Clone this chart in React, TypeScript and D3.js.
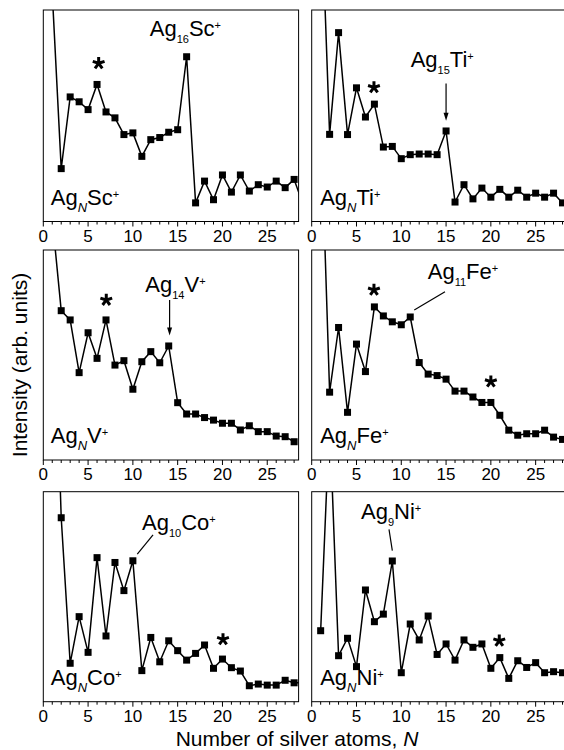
import React from 'react';
import * as d3 from 'd3';

// ---- data (relative intensity, arb. units; index 0 => N = 1) ----
const scValues = [108, 25, 58.9, 56.6, 52.9, 64.8, 51.8, 49.0, 41.1, 41.9, 30.8, 38.7, 39.7, 42.2, 43.4, 77.9, 8.8, 19.1, 10.3, 22.0, 13.9, 22.0, 14.4, 17.4, 16.3, 19.1, 16.0, 19.9, 8];
const tiValues = [159, 41.2, 89.3, 41.1, 63.2, 49.4, 55.5, 35.2, 35.5, 29.7, 31.6, 31.9, 31.9, 31.6, 42.8, 9.2, 17.4, 10.7, 15.8, 11.5, 15.2, 11.5, 14.8, 11.5, 13.4, 11.5, 13.4, 8.8];
const vValues = [115, 71.1, 66.7, 41.6, 60.6, 48.4, 66.7, 45.2, 47.3, 33.7, 46.8, 51.6, 46.3, 54.3, 27.3, 21.9, 21.9, 20.2, 19.0, 17.5, 17.5, 14.3, 16.3, 13.5, 13.5, 11.4, 11.1, 8.7];
const feValues = [165, 32.3, 63.1, 22.7, 55.2, 42.1, 72.9, 68.6, 65.8, 64.4, 68.1, 46.4, 40.9, 40.2, 38.5, 32.8, 32.8, 30.0, 27.4, 27.4, 21.3, 14.2, 11.8, 12.5, 12.5, 14.2, 10.9, 9.8];
const coValues = [220, 87.6, 18.3, 40.5, 23.5, 68.6, 31.3, 66.3, 52.9, 67.1, 14.8, 30.6, 19.0, 29.0, 24.3, 19.8, 23.0, 27.0, 15.9, 20.3, 16.2, 14.6, 7.6, 8.4, 7.9, 7.9, 10.2, 9.0, 9.0];
const niValues = [33.8, 135, 21.9, 30.2, 16.7, 53.2, 38.1, 41.7, 67.0, 13.8, 37.0, 29.4, 40.8, 22.5, 27.5, 19.8, 29.4, 25.9, 27.5, 15.9, 21.0, 11.1, 19.5, 16.3, 18.6, 13.8, 14.3, 13.8];

const metals = ['Sc', 'Ti', 'V', 'Fe', 'Co', 'Ni'];
const magicN = ['16', '15', '14', '11', '10', '9'];
const xTickLabels = [0, 5, 10, 15, 20, 25];
const xTitle = 'Number of silver atoms, ';
const yTitle = 'Intensity (arb. units)';

// ---- layout ----
const colLeft = [43.3, 311.7];
const panelW = 255.3;
const rowTop = [10, 250, 491.7];
const rowH = [211.5, 210, 210];
const FONT = '"Liberation Sans", Arial, Helvetica, sans-serif';

type Ann = {
  col: number; row: number; values: number[];
  label: [number, number];              // magic label start (N, I)
  arrow?: [number, number, number, number]; // vertical arrow with head
  leader?: [number, number, number, number];
  stars: [number, number][];
};

const panels: Ann[] = [
  { col: 0, row: 0, values: scValues, label: [11.88, 87.7], stars: [[6.18, 74.8]] },
  { col: 1, row: 0, values: tiValues, label: [11.05, 73.2], arrow: [15, 65.2, 15, 47.6], stars: [[6.95, 63.4]] },
  { col: 0, row: 1, values: vValues, label: [11.39, 80.1], arrow: [14.1, 76.2, 14.1, 59.3], stars: [[7.03, 76.2]] },
  { col: 1, row: 1, values: feValues, label: [12.95, 86.0], leader: [14.88, 80.1, 11.45, 71.4], stars: [[6.95, 81.0], [20.0, 37.3]] },
  { col: 0, row: 2, values: coValues, label: [11.02, 81.8], leader: [12.25, 79.4, 10.49, 70.3], stars: [[20.06, 29.7]] },
  { col: 1, row: 2, values: niValues, label: [5.5, 86.9], leader: [8.63, 82.1, 9.0, 71.9], stars: [[20.94, 29.0]] },
];

function Star({ x, y }: { x: number; y: number }) {
  const r = 6.2;
  const arms = d3.range(5).map((i) => {
    const a = (-90 + i * 72) * Math.PI / 180;
    return `M${x},${y}L${x + r * Math.cos(a)},${y + r * Math.sin(a)}`;
  }).join('');
  return <path d={arms} stroke="#000" strokeWidth={3} fill="none" />;
}

function Panel({ p, idx }: { p: Ann; idx: number }) {
  const x0 = colLeft[p.col];
  const y0 = rowTop[p.row];
  const h = rowH[p.row];
  const xs = d3.scaleLinear().domain([0, 28.5]).range([x0, x0 + panelW]);
  const ys = d3.scaleLinear().domain([0, 100]).range([y0 + h, y0]);
  const pts = p.values.map((v, i) => [i + 1, v] as [number, number]);
  const line = d3.line<[number, number]>().x((d) => xs(d[0])).y((d) => ys(d[1]));
  const clipId = `clip${idx}`;
  const bottom = y0 + h;
  const ticks = d3.range(0, 29);
  const metal = metals[idx];
  const big = 22, small = 11;
  return (
    <g>
      <defs>
        <clipPath id={clipId}>
          <rect x={x0} y={y0} width={panelW} height={h} />
        </clipPath>
      </defs>
      <g clipPath={`url(#${clipId})`}>
        <path d={line(pts) || ''} fill="none" stroke="#000" strokeWidth={1.5} />
        {pts.map((d, i) => (
          <rect key={i} x={xs(d[0]) - 3.5} y={ys(d[1]) - 3.5} width={7} height={7} fill="#000" />
        ))}
      </g>
      <rect x={x0} y={y0} width={panelW} height={h} fill="none" stroke="#000" strokeWidth={1} />
      {ticks.map((t) => (
        <line key={t} x1={xs(t)} x2={xs(t)} y1={bottom} y2={bottom + (t % 5 === 0 ? 5 : 3)} stroke="#000" strokeWidth={1} />
      ))}
      {xTickLabels.map((t) => (
        <text key={t} x={xs(t)} y={bottom + 20} textAnchor="middle" fontSize={17} fontFamily={FONT}>{t}</text>
      ))}
      {/* panel label Ag_N M+ */}
      <text x={x0 + (p.col === 0 ? 7.5 : 8.5)} y={bottom - 17} fontFamily={FONT} fontSize={big}>
        Ag<tspan fontSize={13} fontStyle="italic" dy={7}>N</tspan>
        <tspan dy={-7}>{metal}</tspan>
        <tspan fontSize={small} dy={-7}>+</tspan>
      </text>
      {/* magic cluster label */}
      <text x={xs(p.label[0])} y={ys(p.label[1])} fontFamily={FONT} fontSize={big}>
        Ag<tspan fontSize={small} dy={7}>{magicN[idx]}</tspan>
        <tspan dy={-7}>{metal}</tspan>
        <tspan fontSize={small} dy={-7}>+</tspan>
      </text>
      {p.arrow && (() => {
        const [ax1, ay1, ax2, ay2] = p.arrow!;
        const X = xs(ax1), Y1 = ys(ay1), Y2 = ys(ay2);
        return (
          <g>
            <line x1={X} x2={xs(ax2)} y1={Y1} y2={Y2 - 6} stroke="#000" strokeWidth={1.2} />
            <path d={`M${X - 2.5},${Y2 - 8}L${X},${Y2}L${X + 2.5},${Y2 - 8}Z`} fill="#000" />
          </g>
        );
      })()}
      {p.leader && (
        <line x1={xs(p.leader[0])} y1={ys(p.leader[1])} x2={xs(p.leader[2])} y2={ys(p.leader[3])} stroke="#000" strokeWidth={1.2} />
      )}
      {p.stars.map((s, i) => <Star key={i} x={xs(s[0])} y={ys(s[1])} />)}
    </g>
  );
}

export default function App() {
  return (
    <svg width={564} height={750} style={{ position: 'absolute', left: 0, top: 0, background: '#fff' }}>
      <rect x={0} y={0} width={564} height={750} fill="#fff" />
      {panels.map((p, i) => <Panel key={i} p={p} idx={i} />)}
      <text x={297} y={746} textAnchor="middle" fontFamily={FONT} fontSize={21}>
        {xTitle}<tspan fontStyle="italic">N</tspan>
      </text>
      <text transform="translate(27,365) rotate(-90)" textAnchor="middle" fontFamily={FONT} fontSize={21}>
        {yTitle}
      </text>
    </svg>
  );
}
